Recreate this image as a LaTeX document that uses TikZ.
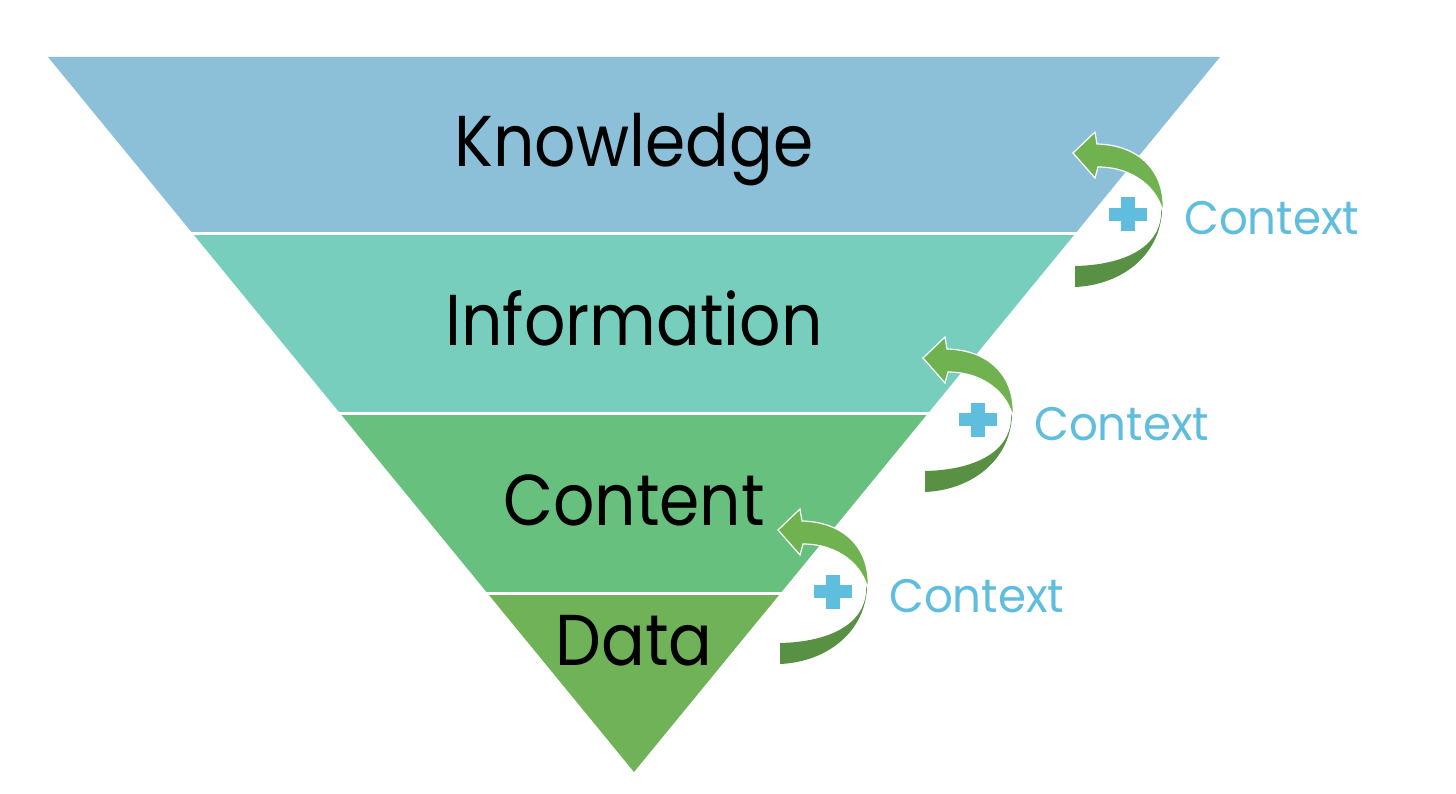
\documentclass[tikz,border=0pt]{standalone}
\usepackage{fontspec}
\usepackage{graphicx}
\setmainfont{Poppins}
\definecolor{know}{HTML}{8BC0D8}
\definecolor{info}{HTML}{78CEBC}
\definecolor{cont}{HTML}{67C07E}
\definecolor{data}{HTML}{70B258}
\definecolor{ctx}{HTML}{5FBEDE}
\definecolor{arrowlight}{HTML}{70B250}
\definecolor{arrowdark}{HTML}{589144}
\newcommand{\bandlabel}[1]{\scalebox{0.9}[1]{#1}}
\newcommand{\ctxlabel}[1]{\scalebox{0.96}[1]{#1}}
\tikzset{
  bandtext/.style={anchor=base, inner sep=0pt, text=black, font=\fontsize{72}{76}\selectfont},
  ctxtext/.style={anchor=base west, inner sep=0pt, text=ctx, font=\fontsize{47}{50}\selectfont},
  gapline/.style={draw=white, line width=3pt},
  ctxarrow/.pic={
    \fill[arrowdark] (89,48) .. controls (92,100) and (50,132) .. (2,134) -- (2,113) .. controls (50,112) and (86,95) .. (88,62) -- cycle;
    \filldraw[fill=arrowlight, draw=white, line width=1.2pt] (0,0) -- (22,-21) -- (24,-9) .. controls (66,-8) and (93,18) .. (90,60) .. controls (85,35) and (60,14) .. (25,14) -- (22,25) -- cycle;
    \fill[ctx] (35.5,55) rectangle (73.5,68);
    \fill[ctx] (47.5,44.5) rectangle (61.5,78.5);
    \node[ctxtext] (-label) at (111,82) {\ctxlabel{Context}};
  }
}
\begin{document}
\begin{tikzpicture}[x=1pt,y=-1pt]
\useasboundingbox (0,0) rectangle (1456,794);
\fill[white] (0,0) rectangle (1456,794);
% bands
\fill[know] (48,57) -- (1220,57) -- (1074.9,234) -- (193.1,234) -- cycle;
\fill[info] (193.1,234) -- (1074.9,234) -- (928.2,413) -- (339.8,413) -- cycle;
\fill[cont] (339.8,413) -- (928.2,413) -- (780.7,593) -- (487.3,593) -- cycle;
\fill[data] (487.3,593) -- (780.7,593) -- (634,772) -- cycle;
\coordinate (g1a) at (185,234); \coordinate (g1b) at (1085,234);
\coordinate (g2a) at (330,413); \coordinate (g2b) at (938,413);
\coordinate (g3a) at (478,593); \coordinate (g3b) at (790,593);
\draw[gapline] (g1a) -- (g1b);
\draw[gapline] (g2a) -- (g2b);
\draw[gapline] (g3a) -- (g3b);
% labels
\node[bandtext] (know) at (634,167) {\bandlabel{Knowledge}};
\node[bandtext] (info) at (634,345) {\bandlabel{Information}};
\node[bandtext] (cont) at (634,525) {\bandlabel{Content}};
\node[bandtext] (data) at (634,665) {\bandlabel{Data}};
% context arrows
\pic (a1) at (1073,153) {ctxarrow};
\pic (a2) at (923,358) {ctxarrow};
\pic (a3) at (778,530) {ctxarrow};
\end{tikzpicture}
\end{document}
